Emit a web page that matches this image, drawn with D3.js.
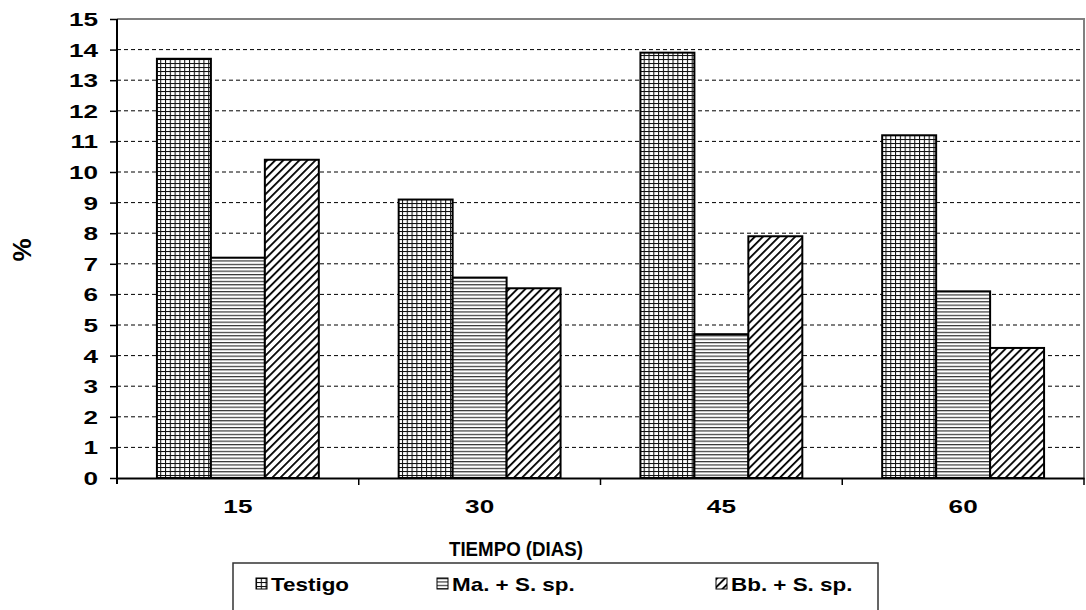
<!DOCTYPE html>
<html>
<head>
<meta charset="utf-8">
<script src="https://cdn.jsdelivr.net/npm/d3@7"></script>
<style>
  body { margin: 0; background: #fff; }
  text { font-family: "Liberation Sans", Arial, sans-serif; fill: #000; }
</style>
</head>
<body>
<div id="chart-area"></div>
<script>
// data
const categories = ["15", "30", "45", "60"];
const seriesNames = ["Testigo", "Ma. + S. sp.", "Bb. + S. sp."];
const testigo = [13.7, 9.1, 13.9, 11.2];
const maSsp = [7.2, 6.55, 4.7, 6.1];
const bbSsp = [10.4, 6.2, 7.9, 4.25];
const yTicks = [0, 1, 2, 3, 4, 5, 6, 7, 8, 9, 10, 11, 12, 13, 14, 15];

const W = 1086, H = 610;
const margin = { left: 117, right: 2, top: 19, bottom: 132 };
const width = W - margin.left - margin.right,
    height = H - margin.top - margin.bottom;

const svg = d3.select("#chart-area").append("svg")
    .attr("width", W).attr("height", H);

// patterns
const defs = svg.append("defs");
const grid = defs.append("pattern").attr("id", "p-grid")
    .attr("patternUnits", "userSpaceOnUse").attr("width", 4.8).attr("height", 4);
grid.append("rect").attr("width", 4.8).attr("height", 4).attr("fill", "#fff");
grid.append("line").attr("x1", 0.5).attr("x2", 0.5).attr("y1", 0).attr("y2", 4)
    .attr("stroke", "#111").attr("stroke-width", 1.1);
grid.append("line").attr("x1", 0).attr("x2", 4.8).attr("y1", 0.5).attr("y2", 0.5)
    .attr("stroke", "#111").attr("stroke-width", 1.1);

const hor = defs.append("pattern").attr("id", "p-hor")
    .attr("patternUnits", "userSpaceOnUse").attr("width", 4).attr("height", 3.4);
hor.append("rect").attr("width", 4).attr("height", 3.4).attr("fill", "#fff");
hor.append("line").attr("x1", 0).attr("x2", 4).attr("y1", 0.6).attr("y2", 0.6)
    .attr("stroke", "#222").attr("stroke-width", 1.1);

const diag = defs.append("pattern").attr("id", "p-diag")
    .attr("patternUnits", "userSpaceOnUse").attr("width", 5.7).attr("height", 5.7)
    .attr("patternTransform", "rotate(45)");
diag.append("rect").attr("width", 5.7).attr("height", 5.7).attr("fill", "#fff");
diag.append("line").attr("x1", 0).attr("x2", 0).attr("y1", 0).attr("y2", 5.7)
    .attr("stroke", "#000").attr("stroke-width", 3.6);

const fills = ["url(#p-grid)", "url(#p-hor)", "url(#p-diag)"];

// stretch text horizontally (the source font looks wide)
function stretch(sel, k) {
    sel.each(function () {
        const n = this.getComputedTextLength();
        d3.select(this).attr("textLength", n * k).attr("lengthAdjust", "spacingAndGlyphs");
    });
}

const g = svg.append("g").attr("transform", `translate(${margin.left},${margin.top})`);

const x = d3.scaleBand().domain(categories).range([0, width]).paddingInner(0).paddingOuter(0);
const xSub = d3.scaleBand().domain(seriesNames).range([0, x.bandwidth()])
    .paddingInner(0).paddingOuter(0.74);
const y = d3.scaleLinear().domain([0, 15]).range([height, 0]);

// gridlines
g.append("g").selectAll("line")
    .data(yTicks.filter(d => d > 0 && d < 15))
    .join("line")
    .attr("x1", 0).attr("x2", width)
    .attr("y1", d => y(d)).attr("y2", d => y(d))
    .attr("stroke", "#000").attr("stroke-width", 1)
    .attr("stroke-dasharray", "4,3");

// plot area frame top/right
g.append("path")
    .attr("d", `M0,${y(15)}H${width}V${height}`)
    .attr("fill", "none").attr("stroke", "#808080").attr("stroke-width", 2);

// bars
const rows = categories.map((c, i) => ({ cat: c, vals: [testigo[i], maSsp[i], bbSsp[i]] }));
const groups = g.selectAll(".items").data(rows).join("g")
    .attr("class", "items")
    .attr("transform", d => `translate(${x(d.cat)},0)`);
groups.selectAll("rect")
    .data(d => d.vals.map((v, j) => ({ key: seriesNames[j], value: v, j })))
    .join("rect")
    .attr("x", d => xSub(d.key))
    .attr("y", d => y(d.value))
    .attr("width", xSub.bandwidth())
    .attr("height", d => height - y(d.value))
    .attr("fill", d => fills[d.j])
    .attr("stroke", "#000").attr("stroke-width", 2);

// y axis
const yAxis = g.append("g")
    .call(d3.axisLeft(y).tickValues(yTicks).tickSize(7).tickPadding(12).tickFormat(d3.format("d")));
yAxis.select(".domain").remove();
yAxis.selectAll(".tick line").attr("stroke", "#000").attr("stroke-width", 1.5);
yAxis.append("line").attr("x1", 0).attr("x2", 0).attr("y1", y(15)).attr("y2", height + 6)
    .attr("stroke", "#000").attr("stroke-width", 2);
yAxis.selectAll("text").attr("font-size", 18).attr("font-weight", "bold").attr("dy", "0.36em");
stretch(yAxis.selectAll("text"), 1.45);

// x axis
const xAxis = g.append("g").attr("transform", `translate(0,${height})`)
    .call(d3.axisBottom(x).tickSize(0).tickPadding(22));
xAxis.select(".domain").attr("stroke", "#000").attr("stroke-width", 2);
xAxis.selectAll("text").attr("font-size", 18).attr("font-weight", "bold");
stretch(xAxis.selectAll("text"), 1.45);
xAxis.selectAll(".bound").data(categories.slice(1).concat(["end"]))
    .join("line")
    .attr("x1", (d, i) => x(categories[i]) + x.bandwidth())
    .attr("x2", (d, i) => x(categories[i]) + x.bandwidth())
    .attr("y1", 0).attr("y2", 7)
    .attr("stroke", "#000").attr("stroke-width", 1.5);

// axis titles
const xTitle = svg.append("text")
    .attr("x", 516).attr("y", 556).attr("text-anchor", "middle")
    .attr("font-size", 20).attr("font-weight", "bold")
    .text("TIEMPO (DIAS)");
xTitle.attr("textLength", 134).attr("lengthAdjust", "spacingAndGlyphs");

const yTitle = svg.append("text")
    .attr("transform", "translate(31,250) rotate(-90)")
    .attr("text-anchor", "middle")
    .attr("font-size", 26).attr("font-weight", "bold")
    .text("%");

// legend
const legend = svg.append("g");
legend.append("rect")
    .attr("x", 233).attr("y", 563).attr("width", 645).attr("height", 60)
    .attr("fill", "#fff").attr("stroke", "#333").attr("stroke-width", 1.5);
const legendX = [256, 437, 716];
const items = legend.selectAll(".leg").data(seriesNames).join("g")
    .attr("class", "leg")
    .attr("transform", (d, i) => `translate(${legendX[i]},578)`);
items.append("rect")
    .attr("width", 11).attr("height", 11)
    .attr("fill", (d, i) => fills[i])
    .attr("stroke", "#000").attr("stroke-width", 1);
items.append("text")
    .attr("x", 15).attr("y", 13)
    .attr("font-size", 19).attr("font-weight", "bold")
    .text(d => d);
stretch(items.selectAll("text"), 1.18);
</script>
</body>
</html>
